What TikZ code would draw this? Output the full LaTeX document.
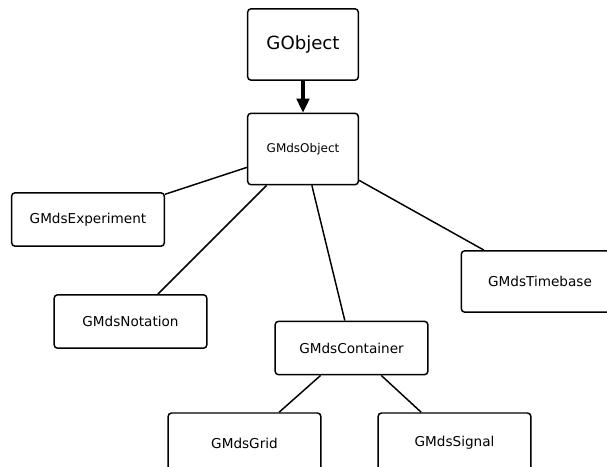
\documentclass[tikz,border=0pt]{standalone}
\usepackage{fontspec}
\setmainfont{DejaVu Sans}
\usetikzlibrary{arrows.meta}
\tikzset{
  every picture/.style={line width=1.1pt},
  cls/.style={draw=black, fill=white, rounded corners=2.5pt, align=center, inner sep=2pt,
    minimum width=114.5pt, minimum height=40pt, font=\fontsize{10.2}{12}\selectfont},
  base/.style={cls, minimum width=83pt, minimum height=53.5pt},
  link/.style={draw=black, line width=1.1pt},
  inherit/.style={-{Triangle[length=10.5pt, width=9.5pt]}, draw=black, line width=2.3pt},
}

\begin{document}
\begin{tikzpicture}[x=0.75pt, y=-0.75pt]
  \useasboundingbox (0,0) rectangle (607,467);
  \node[base, font=\fontsize{13.6}{16}\selectfont] (gobject) at (303,44.5) {GObject};
  \node[base, font=\fontsize{9}{11}\selectfont] (gmdsobject) at (303,149) {GMdsObject};
  \node[cls] (experiment) at (88,219.5) {GMdsExperiment};
  \node[cls] (notation) at (130.5,321.5) {GMdsNotation};
  \node[cls] (container) at (351.5,348) {GMdsContainer};
  \node[cls, minimum width=118pt, minimum height=46pt] (timebase) at (540,281.5) {GMdsTimebase};
  \node[cls, minimum height=45pt] (grid) at (244.5,443) {GMdsGrid};
  \node[cls, minimum height=45pt] (signal) at (454.5,443) {GMdsSignal};

  \draw[inherit] (gobject) -- (gmdsobject);
  \draw[link] (gmdsobject) -- (experiment);
  \draw[link] (gmdsobject) -- (notation);
  \draw[link] (gmdsobject) -- (container);
  \draw[link] (gmdsobject) -- (timebase);
  \draw[link] (container) -- (grid);
  \draw[link] (container) -- (signal);
\end{tikzpicture}
\end{document}
